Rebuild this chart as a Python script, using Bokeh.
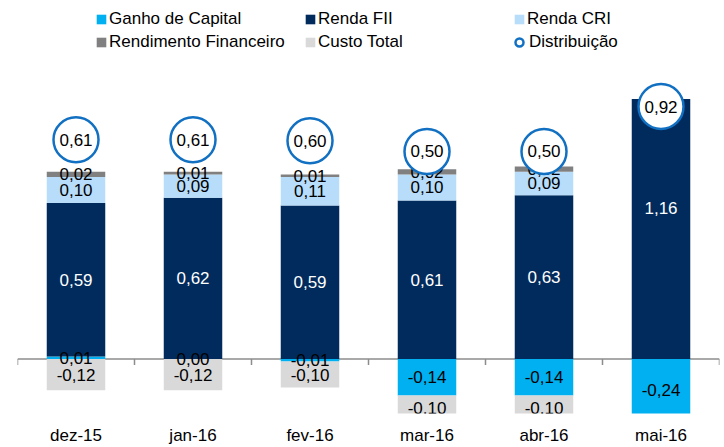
import numpy as np
from bokeh.plotting import figure
from bokeh.models import (Range1d, Span, BoxAnnotation, Legend,
                          LegendItem, ColumnDataSource, FixedTicker)
from bokeh.core.properties import value
from bokeh.embed import file_html
from bokeh.resources import INLINE

# ---------------- data ----------------
categories = ["dez-15", "jan-16", "fev-16", "mar-16", "abr-16", "mai-16"]
ganho_capital = [0.01, 0.00, -0.01, -0.14, -0.14, -0.24]
renda_fii = [0.59, 0.62, 0.59, 0.61, 0.63, 1.16]
renda_cri = [0.10, 0.09, 0.11, 0.10, 0.09, None]
rendimento_fin = [0.02, 0.01, 0.01, 0.02, 0.02, None]
custo_total = [-0.12, -0.12, -0.10, -0.10, -0.10, None]
distribuicao = [0.61, 0.61, 0.60, 0.50, 0.50, 0.92]

# ---------------- style ----------------
FONT = "Liberation Sans"
FS = "17px"
C_GANHO = "#00B0F0"
C_FII = "#002B5C"
C_CRI = "#B7DDFB"
C_RF = "#808080"
C_CUSTO = "#D9D9D9"
C_DIST = "#1170C2"
C_AXIS = "#8C8C8C"

Y_AXIS_MAX = 1.0  # top of the original plot area (bars are cut there)


def arr(v):
    return np.array([np.nan if x is None else x for x in v], dtype=float)


n = len(categories)
xc = np.arange(n) + 0.5              # category centres
xb = np.arange(n + 1).astype(float)  # category boundaries

g = arr(ganho_capital)
fii = arr(renda_fii)
cri = arr(renda_cri)
rf = arr(rendimento_fin)
ct = arr(custo_total)

pos_base = np.where(g > 0, g, 0.0)
neg_base = np.where(g < 0, g, 0.0)

fii_b = pos_base
fii_t = fii_b + fii
cri_b = fii_t
cri_t = cri_b + np.nan_to_num(cri)
rf_b = cri_t
rf_t = rf_b + np.nan_to_num(rf)
ct_b = neg_base
ct_t = ct_b + np.nan_to_num(ct)

p = figure(x_range=Range1d(0, n),
           y_range=Range1d(-0.2096, 1.3788),
           width=724, height=447, output_backend="svg", toolbar_location=None,
           y_axis_location=None, min_border_left=17, min_border_right=5,
           min_border_top=0, min_border_bottom=34, outline_line_color=None)
p.extra_y_ranges = {"dist": Range1d(-1.9486, 1.9112)}
p.xgrid.visible = False
p.ygrid.visible = False

# zero axis line with tick marks at category boundaries
p.add_layout(Span(location=0, dimension="width", line_color=C_AXIS,
                  line_width=1.5, level="underlay"))
p.ray(x=xb, y=np.zeros(n + 1), length=6, length_units="screen",
      angle=-np.pi / 2, line_color=C_AXIS, line_width=1.5, level="underlay")


def bars(bottom, top, color):
    src = ColumnDataSource(dict(x=xc, bottom=bottom, top=top))
    return p.vbar(x="x", bottom="bottom", top="top", width=0.5, source=src,
                  fill_color=color, line_color=None)


r_ganho = bars(np.zeros(n), g, C_GANHO)
r_fii = bars(fii_b, fii_t, C_FII)
r_cri = bars(cri_b, np.where(np.isnan(cri), np.nan, cri_t), C_CRI)
r_rf = bars(rf_b, np.where(np.isnan(rf), np.nan, rf_t), C_RF)
r_ct = bars(ct_b, np.where(np.isnan(ct), np.nan, ct_t), C_CUSTO)


def fmt(v):
    return f"{v:.2f}".replace(".", ",").replace("-0,00", "0,00")


def labels(vals, bottom, top, color):
    xs, ys, ts = [], [], []
    for x, v, b, t in zip(xc, vals, bottom, top):
        if np.isnan(v):
            continue
        xs.append(x)
        ys.append((b + t) / 2)
        ts.append(fmt(v))
    p.text(x=xs, y=ys, text=ts, text_font=value(FONT), text_font_size=FS,
           text_align="center", text_baseline="middle", text_color=color)


labels(fii, fii_b, fii_t, "white")
labels(cri, cri_b, cri_t, "black")
labels(rf, rf_b, rf_t, "black")
labels(g, np.zeros(n), g, "black")
labels(ct, ct_b, ct_t, "black")

# plot-area cut above the original axis maximum
p.add_layout(BoxAnnotation(bottom=Y_AXIS_MAX, fill_color="white", fill_alpha=1.0,
                           line_color=None, level="guide"))

# distribution circles
r_dist = p.scatter(x=xc, y=distribuicao, marker="circle", size=45,
                   fill_color="white", line_color=C_DIST, line_width=2.5,
                   y_range_name="dist", level="overlay")
p.text(x=xc, y=distribuicao, text=[fmt(v) for v in distribuicao],
       text_font=value(FONT), text_font_size=FS, text_align="center",
       text_baseline="middle", text_color="black", y_range_name="dist",
       level="overlay")

# x axis labels only
ax = p.xaxis[0]
ax.ticker = FixedTicker(ticks=list(xc))
ax.major_label_overrides = {float(x): c for x, c in zip(xc, categories)}
ax.axis_line_color = None
ax.major_tick_line_color = None
ax.minor_tick_line_color = None
ax.major_label_text_font = FONT
ax.major_label_text_font_size = FS
ax.major_label_text_color = "black"
ax.major_label_standoff = 6

common = dict(padding=0, margin=0, border_line_color=None,
              background_fill_alpha=0, label_text_font=FONT,
              label_text_font_size=FS, label_text_color="black",
              label_height=20)

leg1 = Legend(items=[LegendItem(label="Ganho de Capital", renderers=[r_ganho]),
                     LegendItem(label="Renda FII", renderers=[r_fii]),
                     LegendItem(label="Renda CRI", renderers=[r_cri]),
                     LegendItem(label="Rendimento Financeiro", renderers=[r_rf]),
                     LegendItem(label="Custo Total", renderers=[r_ct])],
              location=(78, 361), orientation="horizontal", nrows=2,
              glyph_width=12, glyph_height=12, label_standoff=2,
              label_width=192, spacing=3, **common)
leg2 = Legend(items=[LegendItem(label="Distribuição", renderers=[r_dist])],
              location=(492, 359), orientation="horizontal",
              glyph_width=20, glyph_height=24, label_standoff=0, **common)
p.add_layout(leg1, "center")
p.add_layout(leg2, "center")

open("out.html", "w").write(file_html(p, INLINE))
